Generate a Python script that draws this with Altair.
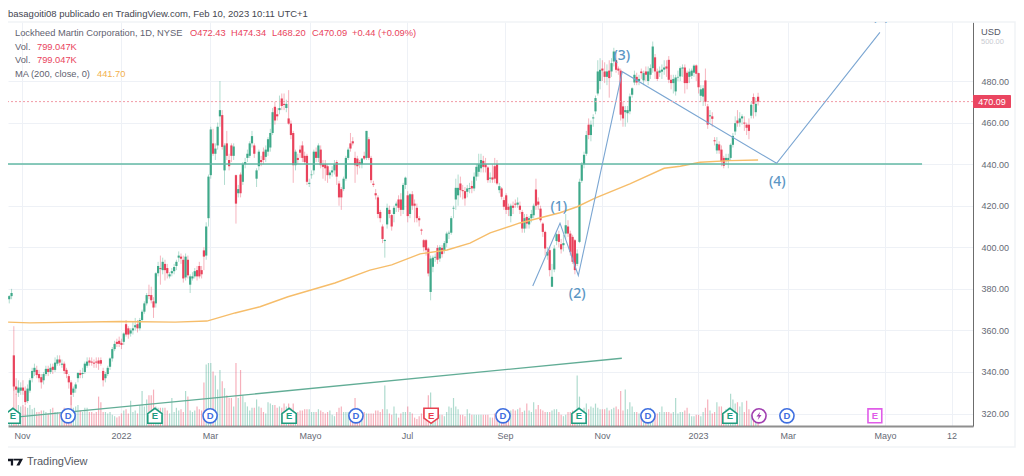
import altair as alt

GREEN = "#3fa98a"
RED = "#e9435c"
BLUE = "#7ba6d2"
LABEL = "#5b96c4"
GREY = "#5f6270"
FONT = "Liberation Sans"

# (open, high, low, close) per daily bar
seg_a = [
(375,377,373,376.5),(376.5,380,375,378),(348,362,331,333),(333,337,329,331.5),(330,336,328,332.5),
(331,335,329,332.5),(332.5,336,329,331),(331,333,324,325.5),(326,334,325,332),(331,337,330,336),
(337,342,335,340.5),(340,344,338,342),(341,343,337,338.5),(339,341,335,337),(337.5,339,332,335),
(336,340,334,339),(339,343,338,341.5),(341.5,343,338,340),(340,344,339,342),(342.5,344,339,341),
(341,347,340,344.5),(344,348,343,346),(346,348,343,344.5),(343.5,346,342,344),(344,345,339,340.5),
(341,342,337,339),
(338,339,332,335),(335,336,324,329),(330,333,328,332),(332,335,330,334),(337,340,335,339.5),
(339.5,341,337,338.5),(339,342,337,339.5),(340,345,339,344),(343,347,342,345),(345.5,347,343,344.5),
(345,347,343,344.5),(344.5,346,342,344),(345,347,342,344.5),(345.5,347,341,344),(345.7,347,343,344),
(340.5,342,333,336),(337,340,335,339),(339,343,338,342),(342.5,347,341,346.5),(346.5,352,345,351),
(351,355,350,353.5),(354.5,356,352,353.5),(355,357,352,353.5),(354,356,351,353),(354.5,359,353,358.5),
(363,365,357,358),(361,362,356,358),(358.5,361,357,360),(360,364,358,361),(361.5,366,360,362.5),
(363,365,359,361),(361,366,360,365),(365,370,364,369),(369,374,368,373),(373,378,372,377),
(377,382,375,376.5),(377,381,373,374.5),(374,376,366,371),
]
seg_b = [
(373,388,371,387.5),(387.5,393,386,391),(390,396,382,389.5),(389,395,387,393),(392,394,384,389),
(390,392,385,387.5),(386,388,385,387),(387.5,390,386,388.5),(388.5,392,387,390.5),(391,394,389,393),
(395,398,393,396),(395.5,397,392,394.5),(394,396,383,385),(385.5,397,384,395.5),(394,396,385,386.5),
(382,387,378,386),(385,388,384,386),(386,390,385,388.5),(389,391,384,386),(391,393,385,386),
(389,391,385,387),(398.5,400,389,395.5),(396,412,394,410),(414,435,410,434),(434.7,458,433,456.7),
(450,457,444,445),(445,450,442,447.5),(449,460,447,458),(463,480,458,466),(463.6,466,447,448.3),
(437,450,430,449),(450,456,442,444),(442,445,437,439),(449,450,441,444),(444,450,442,448.5),
(434.7,435,411.4,421),(426,430,424,428),(435,436,424,426),(431.5,441,430,440),(440,443,438,441),
(443,447,441,445),(444,451,443,450),(450,456,448,453.5),(449,450,443,445),(433,438,429,437),
(439,447,437,446),(442,444,439,441),(446,448,440,442),(443.5,449,441,447),(446,453,444,452),
(448,457,446,455),(455,467,454,465),(467.6,470,459,461),(464,467,461,463),(466,473,464,467),
(471.6,474,466,468),(469,474,466,468.5),(467,471,465,469),(462,475.6,459,459.5),(459.5,461,452,454),
(455,456,431,439.5),(439.5,447,437,446),(443,445,440,442),(447,449,443,445.5),(449,451,441,443),
(444,446,440,441),(444,445,430,431.5),(430.5,433,429,431),(434.7,437,433,435),(437,447,435,446),
(446,448,441,443),(443,450,441,449),(447,449,438,439.5),(440,442,433,438.7),(440,442,432,438),
(439,440,431,434.7),(434.7,437,433,436),(436,439,434,437),(437,442,435,440),(441,442,430,434),
(430.7,432,420,424),(428,429,418,424),(428,434,427,433),(433,444,432,443),(443,448,442,447),
(450,455,446,447.5),(451,453,449,450),(443,446,431,439.5),(442.7,444,435,439),(441,442,438,440),
(440,443,438,442.7),(444,446,442,442.7),(443,456,442,456),(452,453,442,443),(443,444,431,432.3),
(430.6,432,429,430),(426,428,423,425),(424,425,414,416),(417,418,412,414),(410,411,402,404),
(403,404,395,403.5),(411,421,409,419),(418,420,414,416),(415.5,416,408,410),(416,420,412,419),
(420,422,417,421),(423,425,417,419),(423,426,415,418),(418,431,416,430),(430,434,428,433.5),
(425,427,412,415),(416,426,414,425.5),(425.5,427,418,420),(421,423,412,420),(419,421,412,414),
(414,415,410,413),(408.5,409,406,408),(403.4,404,398,400),(403.4,404,396,398.6),(399.4,400,386,387.4),
(378.5,396,374.5,394.6),(390.6,396,388,395),(395,397,393,395.4),(399.7,401,392,394),(394.6,401,393,400),
(399.7,401,395,396.7),(398.6,403,397,402),(402,407.5,400,406.6),
]
seg_c = [
(406.6,408,404,407),
(407,415,406,414),(418.6,420,414,419),(423,433,418,428.6),(425,435,420,428.6),(430.7,434,424,427.5),
(427.5,430,423,427),(427,429,420,423.5),(426.7,430,424,428.3),(428,431,426,428.5),(429.5,432,426,428.3),
(428.3,436,427,434),(434,440,432,438.7),(436.3,445,434,440),(438,445,436,442),(441.6,444,436,438.7),
(440,443,436,438.5),(438.4,439,431,432.3),(433,436,431,433.5),(433.6,440,431,432.6),(439,443,431,433),
(440,442,430,430.7),(427.5,431,426,429.4),(428.3,429,423,424.3),(422.7,424,418,419.5),(425,426,416,418),
(419.5,421,415,418),(415,421,412,420),(420,422,416,419),(421,423,419,420.5),(420.5,424,419,421.5),
(420,422,416,418),(417,418,407,409),(409,416,407,414),(414.6,416,409,411.4),(411,415,409,414),
(414,418,412,416),(415.4,421,414,420),(427.8,433,418,420),(422,424,418,420.5),(418.6,420,412,413),
(411.4,412,405,407.4),(407.4,408,396,399.4),(396,400,394,397.8),(398.6,400,386,389),(381,392,381,385.8),
(389.3,401,388,399.4),(403,407,401,406.3),(406.3,408,400,402.6),(401.5,404,397,399),(401,406,398,402),
(406.6,416,404,410.6),(410,413,405,406.6),(406.6,408,396,397.8),(405,406,392,393),(403.4,404,387,389),
(392,399,391,397),(402.6,433,402,431.5),
]
seg_d = [
(432,441,431,439.7),(440,446,438,444.5),(445,456,444,454),(459,462,452,454),(454,461,451,459),
(462,464,458,462.5),(465.4,473,464,471.8),(474,490,473,484.6),(480,491,476,485.4),(486,490,480,485),
(484.6,489,479,482),(482,488,478,484.6),(485,490,472,481.4),(484.6,491,482,488.6),(489.4,496,487,494.2),
(490,494,484,485.4),(486,487,483,485),(485,486,461,463.8),(467.8,470,458,462),(465,468,458,466),
(464.5,468,460,466),(465.4,474,464,472.6),(473.4,477,472,476.5),(479.3,485,478,483),(482,484,478,479.3),
(480,483,478,481),(484.6,486,481,483.8),(480.3,485,478,483.8),(484.6,487,480,483),(480,487,478,484.6),
(483,488,481,486.2),(486.2,499,484,496.6),(491.4,493,481,484.6),(484.6,486,480,481),(484,487,482,485),
(484.5,488,481,485.5),(485.5,490,483,486.5),(487,490,482,486),(490.2,492,479,480.6),(480.6,483,476,479),
(479,483,474,481),(475,483,473,481.7),(481.7,485,480,482),(482.2,487,480,486.2),(486,488,482,486.5),
(486.5,488,474,479),(484,485,476,479),(482,486,479,484.5),(482.5,486,481,485),(484,488,482,487.4),
(487.5,488,480,483.5),(483.8,484,474,477),(472.9,478,470,476),(472.5,478,468,476.5),(480.3,486,468,470),
(467.8,469,457,459),(463,466,460,463.5),(463,465,458,461.8),(451.5,453,449,451),(446.6,453,445,449.8),
(449.5,451,445,446.6),(447,449,439,441.3),(443,444,438,439.2),(441.8,445,440,443),(441.5,445,438,443),
(443,450,442,449.3),(449.3,455,448,453.6),(455.7,463,454,459.7),(461,466,458,459.7),(460,465,458,462),
(462,464,459,463),(460,463,456,459.5),(459,460,454,457.5),(459,462,452,456),(463.3,470,462,468.6),
(472.3,474,462,469),(465,472,463,469),(472.43,474.34,468.2,470.09),
]
vol_a = [
0.8,0.9,3.0,2.3,1.5,1.4,1.5,1.4,1.3,1.5,1.2,1.3,1.0,1.0,1.1,1.1,1.0,0.9,1.2,1.3,
1.0,1.0,0.9,1.0,1.3,1.0,1.1,2.1,1.3,1.4,1.5,1.1,1.0,1.3,1.3,1.0,1.0,0.9,1.0,2.1,
1.7,1.0,1.0,0.9,1.0,0.8,0.7,0.6,0.7,0.9,1.1,1.2,0.9,1.8,1.0,1.1,0.9,1.5,2.5,1.4,
1.9,2.2,2.2,2.6,1.4,1.3,1.3,1.3,1.3,1.1,0.9,2.0,1.0,1.3,1.1,1.2,1.0,2.5,2.1,1.1,
1.0,1.1,1.4,1.2,1.1,3.1,
]
vol_b = [
4.4,4.5,4.5,3.9,3.6,2.6,4.0,3.2,2.7,2.2,2.0,2.0,1.4,4.5,2.0,4.0,2.2,1.7,1.4,1.1,
1.3,1.3,1.9,1.4,1.3,1.0,0.9,1.7,1.6,1.5,1.5,1.3,1.4,1.3,1.6,1.4,1.6,1.3,1.6,1.0,
1.0,1.1,1.1,1.2,1.2,1.2,1.0,1.0,1.0,1.2,1.1,1.0,0.9,1.0,1.1,0.8,0.7,1.0,1.3,1.4,
1.0,1.0,1.0,1.0,1.0,2.0,1.3,1.0,1.0,1.0,0.9,0.9,0.9,0.9,1.1,1.1,1.0,1.2,2.9,1.2,
0.9,0.8,1.4,0.9,0.6,0.9,1.0,1.0,1.4,1.0,0.9,0.6,0.5,0.7,0.9,1.1,1.2,2.2,2.4,1.2,
1.0,0.8,0.8,0.8,0.7,1.0,1.4,1.3,2.0,1.4,1.2,0.8,0.8,0.7,1.2,0.9,0.8,0.8,0.8,0.8,
0.8,0.8,0.8,0.8,0.6,0.6,0.9,0.9,
]
vol_c = [
0.9,1.0,1.1,1.0,1.1,1.1,1.2,1.1,1.2,1.3,1.0,1.1,1.6,1.1,1.0,1.7,1.2,1.5,1.2,1.1,
1.0,1.0,1.0,1.1,1.2,1.2,1.0,0.8,0.7,0.8,1.0,1.0,1.1,1.0,3.6,2.1,1.2,1.3,1.6,1.2,
1.4,1.3,1.6,1.3,1.2,1.2,1.2,1.3,1.1,1.2,1.3,1.4,1.2,2.5,1.1,2.6,1.2,1.7,1.4,1.0,
1.0,0.9,0.8,0.9,1.0,1.1,1.3,1.0,0.9,0.9,1.0,1.4,1.0,1.0,1.0,0.9,1.0,2.0,0.9,1.0,
1.0,1.1,1.3,0.9,0.7,0.7,0.8,0.8,0.7,1.0,1.3,1.9,1.1,0.9,1.0,1.7,1.4,1.4,1.0,1.2,
1.3,2.3,1.9,1.6,1.7,1.4,1.7,1.0,1.8,1.2,0.8,0.8,0.7,0.8,
]
ma_idx = [-6.5,3,42.4,66.4,80.3,92.6,103.5,115.7,136.2,151.5,161,173.4,185.2,195.2,204,217,234.5,242,249.8,265,280,287,295.6,308.7,321]
ma_val = [364,363.6,364.3,364,364.5,368.4,371.4,376.2,382.8,389,391.5,396.8,398.7,402,406.9,411.7,416.6,419.5,423.7,430.5,438,439,440.9,441.7,442]
zig_idx = [222.6,234.5,242.5,261.7,329.1,374.2]
zig_val = [381.4,411.6,386.4,484.5,440.4,503.4]
tick_pos = [-0.4,42.8,81.7,125.3,167.7,210.5,252.8,294.8,334,376.4,405.5]
tick_txt = ["Nov","2022","Mar","Mayo","Jul","Sep","Nov","2023","Mar","Mayo","12"]
price_ticks = [320,340,360,380,400,420,440,460,480]
last_close = 470.09
wave_labels = [("(1)",234,419.5),("(2)",242,377.6),("(3)",261.5,492.2),("(4)",329.4,431.6)]
cut_label = [("(5)",374.5,511.3)]
e_green = [-4.4,57.6,116.2,242.8,308.7]
e_red = [178.2]
d_pos = [19.7,81.7,145.4,209.6,272.9,333.6]
bolt_pos = [321.4]
pink_pos = [372]
badge_y = 318.9

rows = seg_a + seg_b + seg_c + seg_d
vols = vol_a + vol_b + vol_c
bars = []
for i, r in enumerate(rows):
    v = vols[i] if i < len(vols) else 0.8
    bars.append({"i": i - 6, "o": r[0], "h": r[1], "l": r[2], "c": r[3], "v": v, "zero": 0,
                 "d": "up" if r[3] >= r[0] else "down"})

x_scale = alt.Scale(domain=[-6.55, 414.85], nice=False, zero=False)
y_scale = alt.Scale(domain=[314, 508.4], nice=False, zero=False)
col = alt.Color("d:N", scale=alt.Scale(domain=["up", "down"], range=[GREEN, RED]), legend=None)
expr = "".join(f"datum.value=={p}?'{t}':" for p, t in zip(tick_pos, tick_txt)) + "''"
x_axis = alt.Axis(values=tick_pos, labelExpr=expr, grid=True, gridColor="#eef1f6", ticks=False, title=None,
                  domainColor="#8f8f8f", domainWidth=2, labelColor="#666a75", labelFont=FONT,
                  labelFontSize=9, labelPadding=5, labelOverlap=False, labelFlush=False)
X = alt.X("i:Q", scale=x_scale, axis=x_axis, title=None)
src = alt.Data(values=bars)

frame = alt.Chart(alt.Data(values=[{"a": 1}])).mark_rect(
    filled=False, stroke="#f1f3f6", strokeWidth=1.5, clip=False).encode(
    x=alt.value(-1), x2=alt.value(1007), y=alt.value(0), y2=alt.value(425))
axes = alt.Chart(alt.Data(values=[{"i": 0, "p": 400}])).mark_point(opacity=0).encode(
    x=X,
    y=alt.Y("p:Q", scale=y_scale, title=None,
            axis=alt.Axis(orient="right", values=price_ticks, format=".2f", grid=True, gridColor="#eef1f6",
                          ticks=False, domainColor="#6c6c6c", labelColor="#666a75", labelFont=FONT,
                          labelFontSize=9, labelPadding=8, labelFlush=False)),
)
volume = alt.Chart(src).mark_rule(strokeWidth=1.2, opacity=0.42).encode(
    x=X, y=alt.Y("v:Q", scale=alt.Scale(domain=[0, 28.86], nice=False), axis=None), y2="zero:Q", color=col)
wick = alt.Chart(src).mark_rule(strokeWidth=0.8, opacity=0.5).encode(
    x=X, y=alt.Y("h:Q", scale=y_scale, axis=None), y2="l:Q", color=col)
body = alt.Chart(src).mark_rule(strokeWidth=2.2).encode(
    x=X, y=alt.Y("o:Q", scale=y_scale, axis=None), y2="c:Q", color=col)


def polyline(xs, ys, color, width):
    vals = [{"i": a, "p": b, "k": n} for n, (a, b) in enumerate(zip(xs, ys))]
    return alt.Chart(alt.Data(values=vals)).mark_line(color=color, strokeWidth=width).encode(
        x=X, y=alt.Y("p:Q", scale=y_scale, axis=None), order="k:Q")


ma = polyline(ma_idx, ma_val, "#f6bd6a", 1.4)
hline = polyline([-6.55, 392.6], [440.1, 440.1], "#62b8a5", 1.4)
trend = polyline([-6.5, 261.5], [317.9, 346.6], "#62ad96", 1.3)
zig = polyline(zig_idx, zig_val, BLUE, 1.1)
dotted = alt.Chart(alt.Data(values=[{"p": last_close}])).mark_rule(
    color="#f19aa6", strokeDash=[2, 2], strokeWidth=1).encode(y=alt.Y("p:Q", scale=y_scale, axis=None))


def wave_text(items, clip):
    return alt.Chart(alt.Data(values=[{"t": a, "i": b, "p": c} for a, b, c in items])).mark_text(
        color=LABEL, fontSize=14, font="Noto Sans", fontWeight=500, clip=clip).encode(
        x=X, y=alt.Y("p:Q", scale=y_scale, axis=None), text="t:N")


wave = wave_text(wave_labels, False)
wave_cut = wave_text(cut_label, True)

UP = "M-0.95,1L0.95,1L0.95,-0.3L0,-1L-0.95,-0.3Z"
DOWN = "M-0.95,-1L0.95,-1L0.95,0.3L0,1L-0.95,0.3Z"
BOLT = "M0.3,-1L-0.6,0.15L-0.05,0.15L-0.3,1L0.6,-0.2L0.05,-0.2Z"


def badge(xs, shape, color, letter, size=225):
    vals = [{"i": a, "p": badge_y} for a in xs]
    pt = alt.Chart(alt.Data(values=vals)).mark_point(
        shape=shape, filled=True, fill="#ffffff", stroke=color, strokeWidth=1.6, size=size, opacity=1).encode(
        x=X, y=alt.Y("p:Q", scale=y_scale, axis=None))
    if not letter:
        return pt
    tx = alt.Chart(alt.Data(values=vals)).mark_text(
        text=letter, color=color, fontSize=9.5, font=FONT, fontWeight="bold").encode(
        x=X, y=alt.Y("p:Q", scale=y_scale, axis=None))
    return pt + tx


bolt_ring = badge(bolt_pos, "circle", "#a13fb0", "", 200)
bolt = alt.Chart(alt.Data(values=[{"i": a, "p": badge_y} for a in bolt_pos])).mark_point(
    shape=BOLT, filled=True, fill="#a13fb0", size=70, opacity=1, strokeWidth=0).encode(
    x=X, y=alt.Y("p:Q", scale=y_scale, axis=None))
badges = [badge(e_green, UP, "#1f9c7f", "E"), badge(e_red, DOWN, "#e8404f", "E"),
          badge(d_pos, "circle", "#3f6fe0", "D", 200), bolt_ring, bolt,
          badge(pink_pos, "square", "#e05ce8", "E", 190)]


def txt(s, px, py, color=GREY, size=9.3, align="left", weight="normal"):
    return alt.Chart(alt.Data(values=[{"t": s}])).mark_text(
        color=color, fontSize=size, align=align, baseline="middle", font=FONT, fontWeight=weight,
        clip=False).encode(x=alt.value(px - 8), y=alt.value(py - 22), text="t:N")


tag = alt.Chart(alt.Data(values=[{"a": 1}])).mark_rect(color="#ea4560", cornerRadius=1, clip=False).encode(
    x=alt.value(965), x2=alt.value(1003), y=alt.value(73), y2=alt.value(86))

texts = [
    txt("basagoiti08 publicado en TradingView.com, Feb 10, 2023 10:11 UTC+1", 8, 14, "#44464f", 9.5),
    txt("Lockheed Martin Corporation, 1D, NYSE", 15, 33),
    txt("O472.43", 190, 33, RED), txt("H474.34", 231, 33, RED), txt("L468.20", 272, 33, RED),
    txt("C470.09", 312, 33, RED), txt("+0.44 (+0.09%)", 352, 33, RED),
    txt("Vol.", 15, 47), txt("799.047K", 37, 47, RED),
    txt("Vol.", 15, 60), txt("799.047K", 37, 60, RED),
    txt("MA (200, close, 0)", 15, 74), txt("441.70", 97, 74, "#f2b04c"),
    txt("USD", 981, 32, "#555866"),
    txt("500.00", 981, 42, "#c9cbd1", 7.5),
    txt("470.09", 992, 102, "#ffffff", 9, "center"),
    txt("TradingView", 27, 462, "#55585f", 11),
]
logo = alt.Chart(alt.Data(values=[{"a": 1}])).mark_point(
    shape="M-1,-0.45L-0.32,-0.45L-0.32,0.45L-0.62,0.45L-0.62,-0.1L-1,-0.1ZM-0.28,-0.45L1,-0.45L0.52,0.45L0.12,0.45L0.5,-0.2L-0.28,-0.2Z",
    filled=True, fill="#131722", size=225, opacity=1, strokeWidth=0, clip=False).encode(
    x=alt.value(15.5 - 8), y=alt.value(462 - 22))

chart = alt.layer(frame, axes, volume, wick, body, ma, hline, trend, zig, dotted, wave, wave_cut, *badges, tag, *texts, logo).resolve_scale(
    y="independent"
).properties(
    width=965, height=404, padding={"left": 0, "top": 14, "right": 43, "bottom": 42},
    autosize=alt.AutoSizeParams(type="none"),
).configure_view(strokeWidth=0)

chart.save("out.html", embed_options={"renderer": "svg", "actions": False})
